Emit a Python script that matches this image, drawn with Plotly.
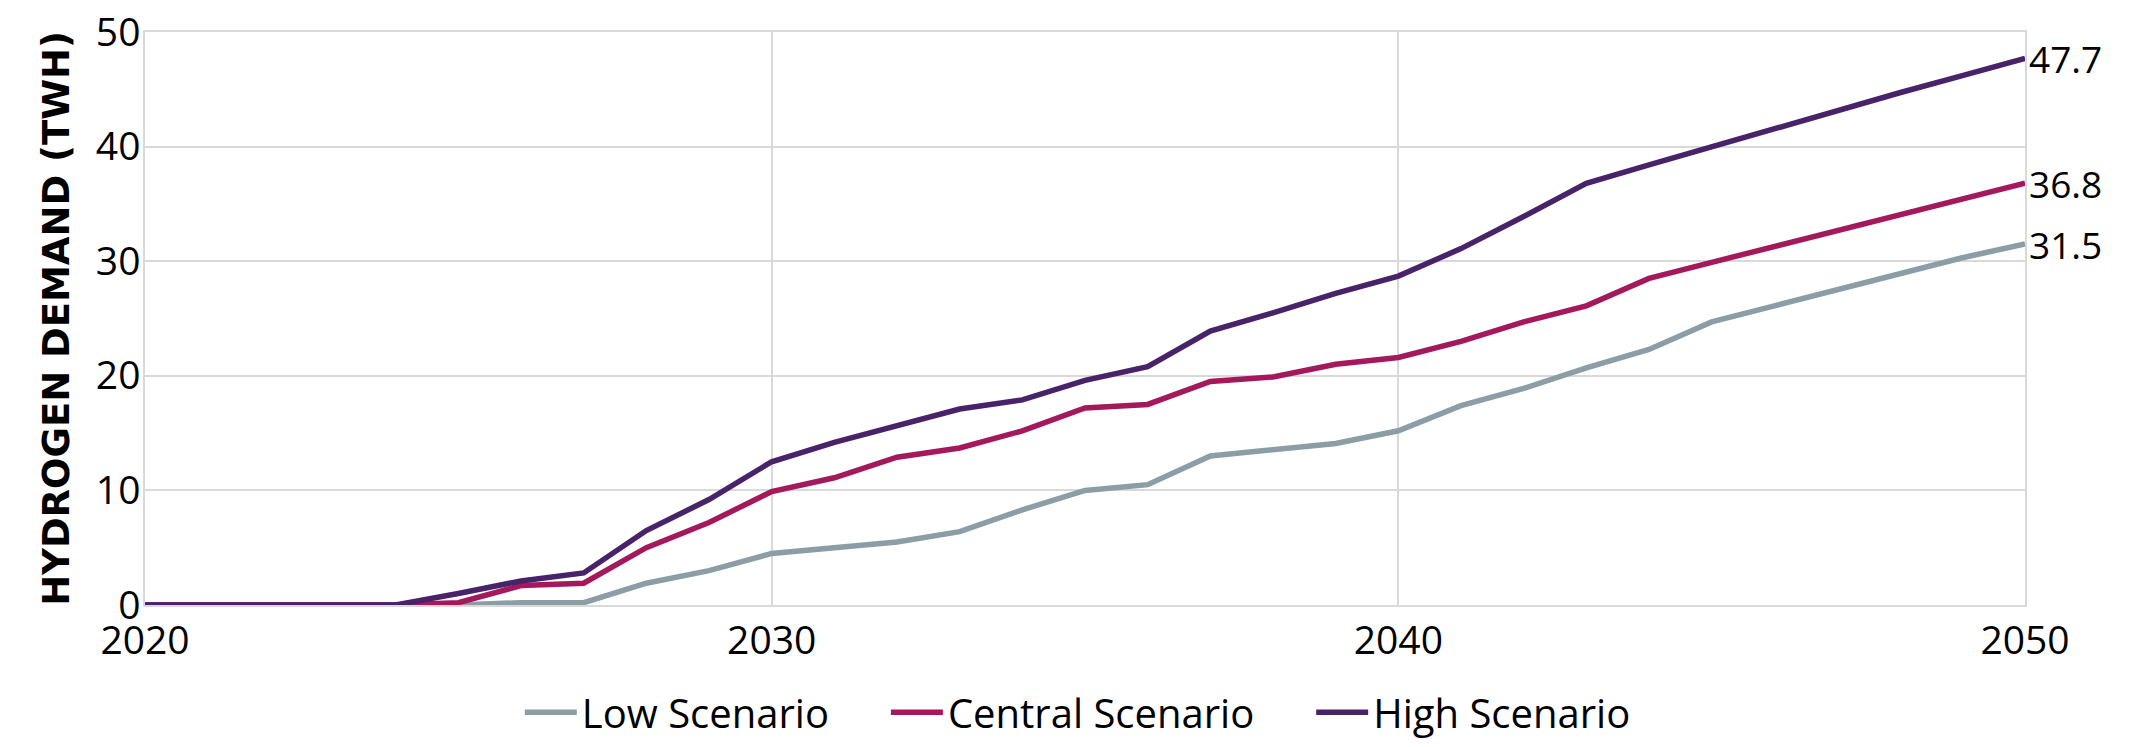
import plotly.graph_objects as go

years = list(range(2020, 2051))
low = [0, 0, 0, 0, 0, 0, 0.2, 0.2, 1.9, 3.0, 4.5, 5.0, 5.5, 6.4, 8.3, 10.0, 10.5, 13.0, 13.5, 14.1, 15.2,
       17.4, 18.9, 20.7, 22.3, 24.7, 26.1, 27.5, 29.0, 30.3, 31.5]
central = [0, 0, 0, 0, 0, 0.2, 1.7, 1.9, 5.0, 7.2, 9.9, 11.1, 12.9, 13.7, 15.2, 17.2, 17.5, 19.5, 19.9, 21.0, 21.6,
           23.0, 24.7, 26.1, 28.5, 29.9, 31.3, 32.7, 34.1, 35.5, 36.8]
high = [0, 0, 0, 0, 0, 1.0, 2.1, 2.8, 6.5, 9.2, 12.5, 14.2, 15.6, 17.1, 17.9, 19.6, 20.8, 23.9, 25.5, 27.2, 28.7,
        31.1, 33.9, 36.8, 38.4, 40.0, 41.5, 43.1, 44.7, 46.2, 47.7]
series_names = ["Low Scenario", "Central Scenario", "High Scenario"]
series_colors = ["#8B9EA5", "#A3195B", "#48236A"]
end_labels = ["31.5", "36.8", "47.7"]
y_ticks = [0, 10, 20, 30, 40, 50]
x_ticks = [2020, 2030, 2040, 2050]

FONT = "Open Sans"
PAD = "\u00a0" * 5
fig = go.Figure()
for name, vals, col in zip(series_names, [low, central, high], series_colors):
    fig.add_trace(go.Scatter(x=years, y=vals, mode="lines", name=name + PAD,
                             line=dict(color=col, width=5.5)))

for vals, lab in zip([low, central, high], end_labels):
    fig.add_annotation(x=years[-1], y=vals[-1], text=lab, showarrow=False,
                       xanchor="left", yanchor="middle", xshift=2,
                       font=dict(family=FONT, size=37, color="#000000"))

grid = "#D9D9D9"
fig.update_layout(
    width=2140, height=747,
    margin=dict(l=145, r=115, t=32, b=142, autoexpand=False),
    paper_bgcolor="white", plot_bgcolor="white",
    font=dict(family=FONT, size=38, color="#000000"),
    showlegend=True,
    legend=dict(orientation="h", xanchor="center", x=0.51, yanchor="middle", y=-0.187,
                font=dict(family=FONT, size=40, color="#000000"), itemwidth=52,
                traceorder="normal"),
    xaxis=dict(range=[2020, 2050], tickvals=x_ticks, showgrid=True, gridcolor=grid, gridwidth=1.5,
               zeroline=False, showline=True, mirror=True, linecolor=grid, linewidth=1.5,
               ticks="", ticklabelstandoff=0, automargin=False,
               tickfont=dict(family=FONT, size=39)),
    yaxis=dict(range=[0, 50], tickvals=y_ticks, showgrid=True, gridcolor=grid, gridwidth=1.5,
               zeroline=True, zerolinecolor="#CCCCCC", zerolinewidth=2,
               showline=True, mirror=True, linecolor=grid, linewidth=1.5,
               ticks="", ticklabelstandoff=-5, automargin=False,
               tickfont=dict(family=FONT, size=39),
               title=dict(text="<b>HYDROGEN DEMAND (TWH)</b>",
                          font=dict(family="DejaVu Sans", size=37, color="#000000"))),
)
fig.write_html("out.html", config={"displayModeBar": False},
               post_script="document.body.style.margin='0px';")
